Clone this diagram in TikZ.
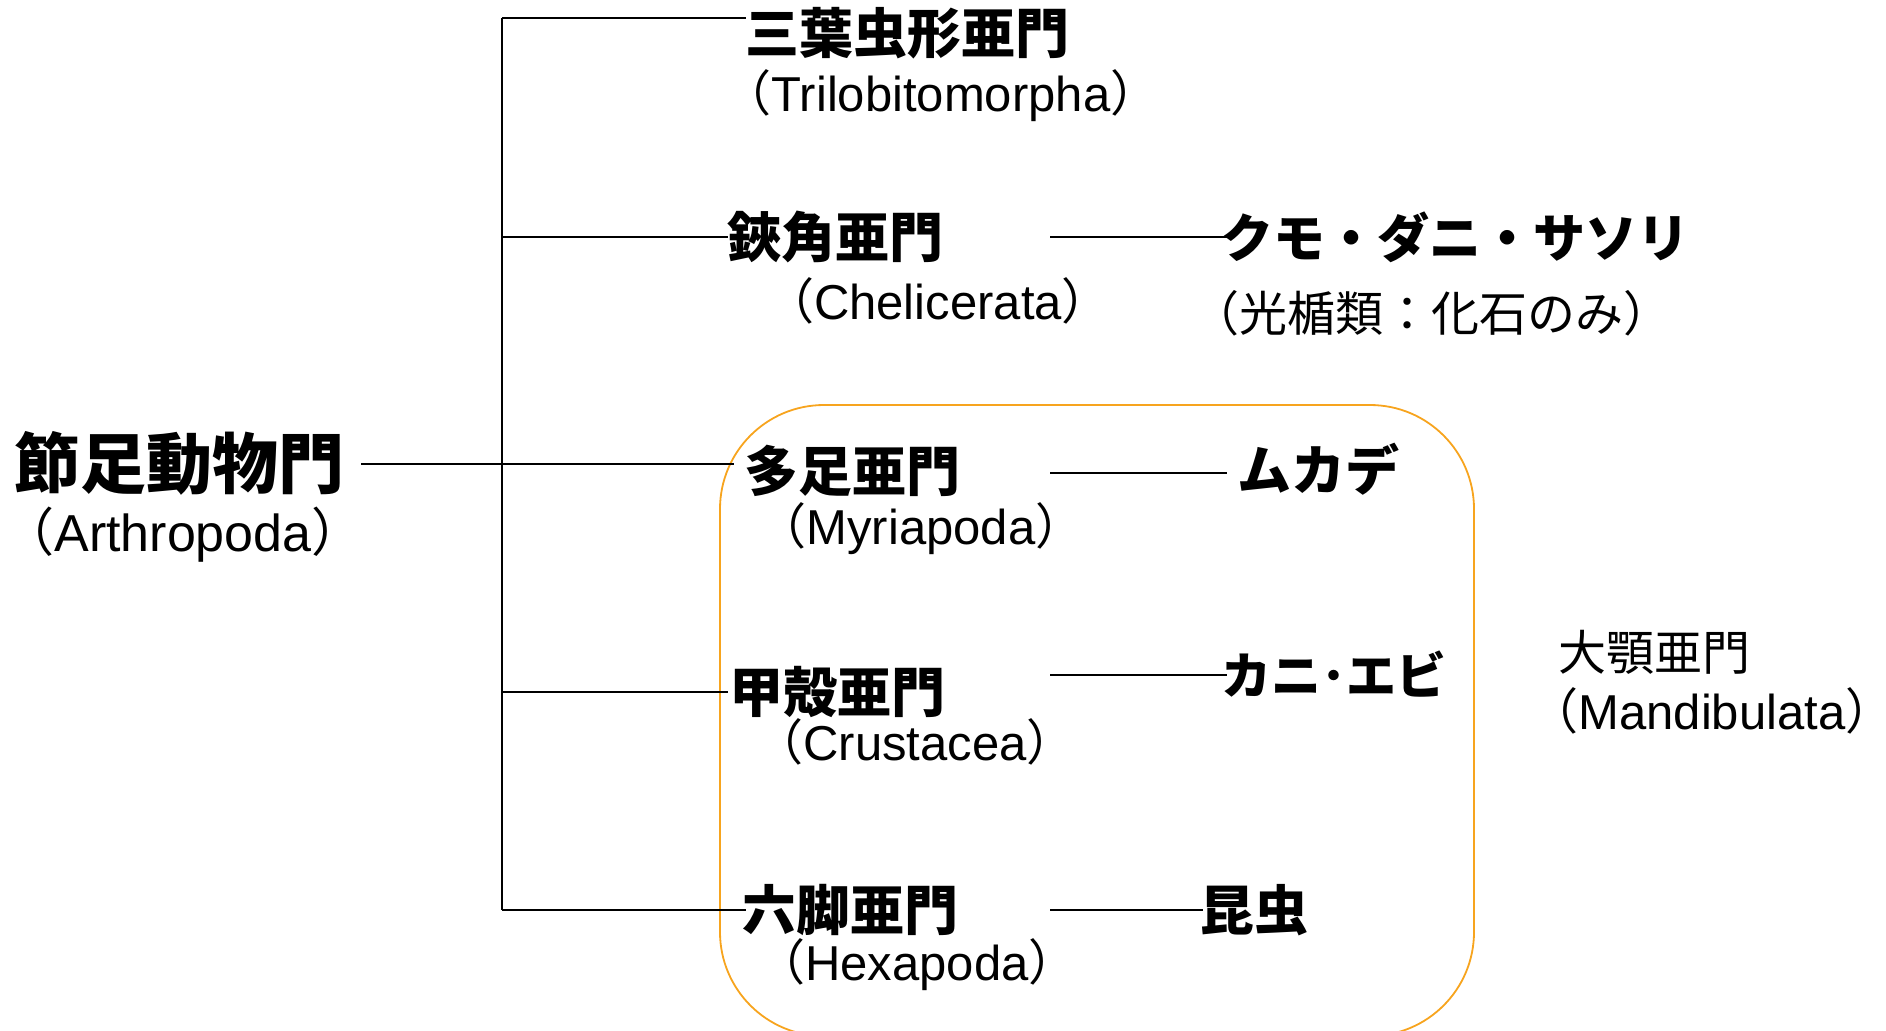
\documentclass[tikz,border=0pt]{standalone}
\usepackage{fontspec}
\setmainfont{Liberation Sans}
\newfontfamily\cjk{Noto Sans CJK JP}
\definecolor{boxorange}{HTML}{F7A41E}
\tikzset{
  px/.style={x=0.5pt,y=-0.5pt},
  head/.style={inner sep=0pt,font=\cjk\bfseries\fontsize{27pt}{30pt}\selectfont},
  thin/.style={inner sep=0pt,font=\cjk\fontsize{24pt}{28pt}\selectfont},
  latin/.style={inner sep=0pt,font=\fontsize{24.5pt}{28pt}\selectfont},
  link/.style={draw=black,line width=0.75pt},
}
\newcommand{\pl}{{\kern-0.45em\cjk （}}
\newcommand{\pr}{{\cjk ）\kern-0.45em}}
\begin{document}
\begin{tikzpicture}[px]
\useasboundingbox (0,0) rectangle (1886,1030);
% orange group box
\begin{scope}
\clip (0,0) rectangle (1886,1030);
\draw[boxorange,line width=0.9pt,rounded corners=52pt] (720,405) rectangle (1474,1036);
\end{scope}
% nodes
\node[head,font=\cjk\bfseries\fontsize{33pt}{36pt}\selectfont] (arth) at (180,463) {節足動物門};
\node[latin,font=\fontsize{26pt}{30pt}\selectfont] (arthL) at (183,535) {\pl Arthropoda\pr};
\node[head] (tri) at (907,33) {三葉虫形亜門};
\node[latin] (triL) at (941,96) {\pl Trilobitomorpha\pr};
\node[head] (che) at (835,237) {鋏角亜門};
\node[latin] (cheL) at (938,301) {\pl Chelicerata\pr};
\node[head,font=\cjk\bfseries\fontsize{26pt}{30pt}\selectfont] (spider) at (1455,237) {クモ・ダニ・サソリ};
\node[thin] (fossil) at (1431,313) {\pl 光楯類：化石のみ\pr};
\node[head] (myr) at (852,471) {多足亜門};
\node[latin] (myrL) at (921,529) {\pl Myriapoda\pr};
\node[head] (cent) at (1318,469) {ムカデ};
\node[head] (cru) at (837,692) {甲殻亜門};
\node[latin] (cruL) at (915,742) {\pl Crustacea\pr};
\node[head,font=\cjk\bfseries\fontsize{25pt}{30pt}\selectfont] (crab) at (1334,674) {カニ･エビ};
\node[head] (hex) at (850,910) {六脚亜門};
\node[latin] (hexL) at (917,965) {\pl Hexapoda\pr};
\node[head] (ins) at (1254,910) {昆虫};
\node[thin] (mand) at (1654,652) {大顎亜門};
\node[latin] (mandL) at (1712,711) {\pl Mandibulata\pr};
% connector coordinates
\coordinate (a0) at (361,464);
\coordinate (j0) at (502,464);
\coordinate (a1) at (734,464);
\coordinate (jt) at (502,18);
\coordinate (jb) at (502,910);
\coordinate (e1) at (746,18);
\coordinate (j2) at (502,237);
\coordinate (e2) at (728,237);
\coordinate (j4) at (502,692);
\coordinate (e4) at (728,692);
\coordinate (e5) at (746,910);
\coordinate (r2s) at (1050,237);
\coordinate (r2e) at (1227,237);
\coordinate (r3s) at (1050,473);
\coordinate (r3e) at (1227,473);
\coordinate (r4s) at (1050,675);
\coordinate (r4e) at (1227,675);
\coordinate (r5s) at (1050,910);
\coordinate (r5e) at (1203,910);
% connectors
\draw[link] (a0) -- (a1);
\draw[link] (jt) -- (jb);
\draw[link] (jt) -- (e1);
\draw[link] (j2) -- (e2);
\draw[link] (j4) -- (e4);
\draw[link] (jb) -- (e5);
\draw[link] (r2s) -- (r2e);
\draw[link] (r3s) -- (r3e);
\draw[link] (r4s) -- (r4e);
\draw[link] (r5s) -- (r5e);
\end{tikzpicture}
\end{document}
